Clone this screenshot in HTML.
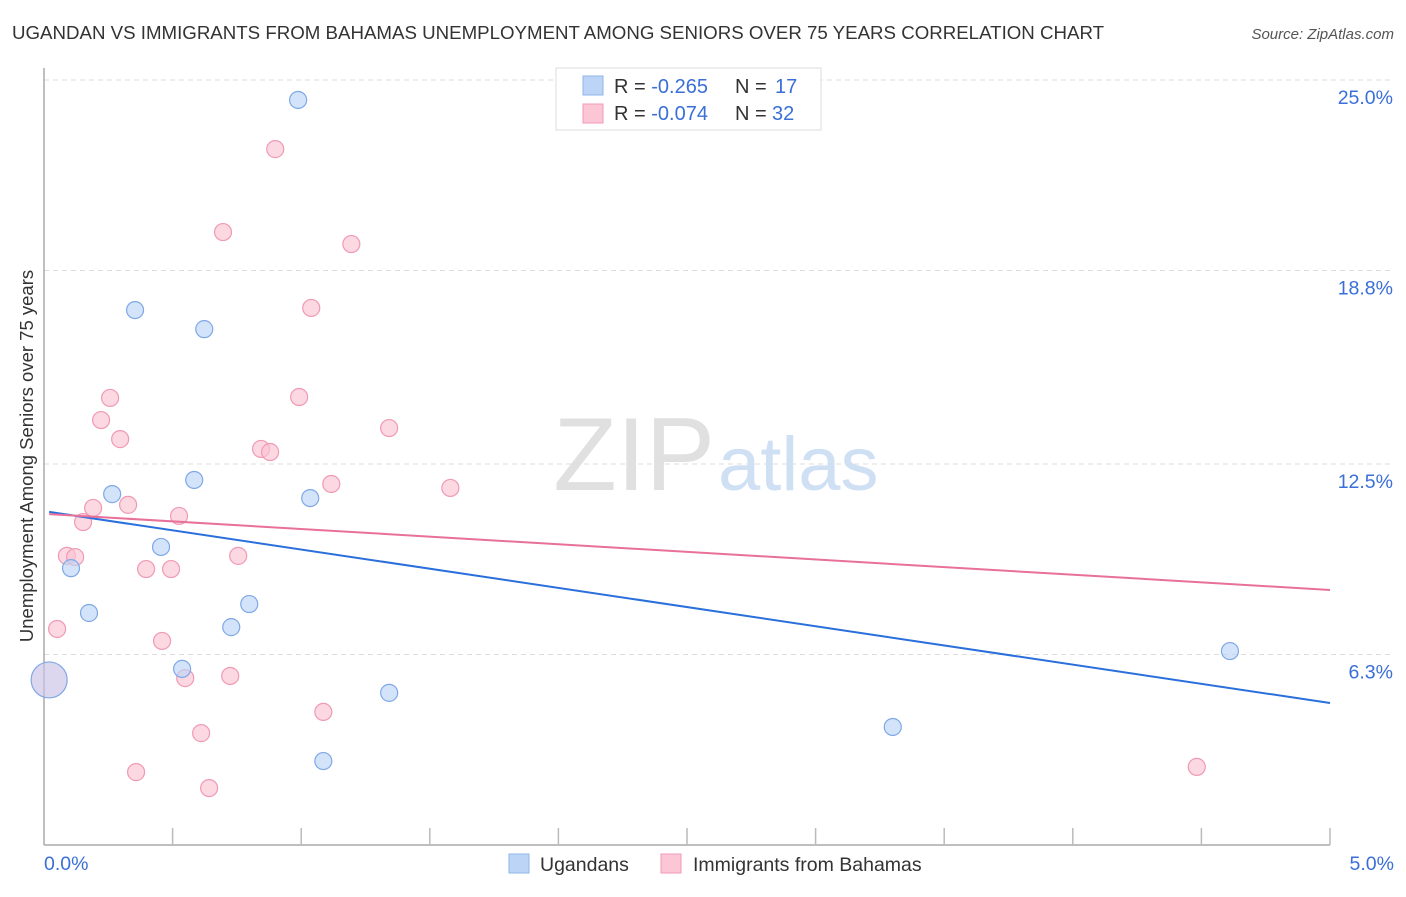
<!DOCTYPE html>
<html><head><meta charset="utf-8"><style>
body{margin:0;background:#fff;font-family:"Liberation Sans",sans-serif}
svg text{font-family:"Liberation Sans",sans-serif}
</style></head><body>
<svg width="1406" height="892" xmlns="http://www.w3.org/2000/svg">
<text x="12" y="39" font-size="18.7" fill="#333">UGANDAN VS IMMIGRANTS FROM BAHAMAS UNEMPLOYMENT AMONG SENIORS OVER 75 YEARS CORRELATION CHART</text>
<text x="1394" y="39" font-size="15" fill="#555" text-anchor="end" font-style="italic">Source: ZipAtlas.com</text>
<g id="grid"></g>
<text x="715" y="490" font-size="104" fill="#e0e0e0" text-anchor="end" font-family="Liberation Serif">ZIP</text>
<text x="718" y="490" font-size="76" fill="#cfdff4">atlas</text>
<line x1="44" y1="68" x2="44" y2="845" stroke="#aaa" stroke-width="1.5"/>
<line x1="44" y1="845" x2="1330" y2="845" stroke="#aaa" stroke-width="1.5"/>
<g id="ticks"></g>
<text x="44" y="870" font-size="19.5" fill="#3a6fd8">0.0%</text>
<text x="1394" y="870" font-size="19.5" fill="#3a6fd8" text-anchor="end">5.0%</text>
<text transform="translate(33,456) rotate(-90)" font-size="18.5" fill="#333" text-anchor="middle">Unemployment Among Seniors over 75 years</text>
<g id="pts"></g>
<g id="lines"></g>
<g>
<rect x="556" y="68" width="265" height="62" fill="#fff" stroke="#ddd"/>
<rect x="583" y="76" width="20" height="19" fill="#bcd5f7" stroke="#8fb5e8"/>
<rect x="583" y="104" width="20" height="19" fill="#fcc6d6" stroke="#f09ab5"/>
<text x="614" y="93" font-size="20" fill="#333">R = <tspan fill="#3a6fd8">-0.265</tspan><tspan x="735">N = </tspan><tspan fill="#3a6fd8" x="775">17</tspan></text>
<text x="614" y="120" font-size="20" fill="#333">R = <tspan fill="#3a6fd8">-0.074</tspan><tspan x="735">N = </tspan><tspan fill="#3a6fd8" x="772">32</tspan></text>
</g>
<g>
<rect x="509" y="854" width="20" height="19" fill="#bcd5f7" stroke="#8fb5e8"/>
<text x="540" y="871" font-size="19.5" fill="#333">Ugandans</text>
<rect x="661" y="854" width="20" height="19" fill="#fcc6d6" stroke="#f09ab5"/>
<text x="693" y="871" font-size="19.5" fill="#333">Immigrants from Bahamas</text>
</g>
</svg>
<script>
const yTicks=[25.0,18.8,12.5,6.3];
const yTickLabels=["25.0%","18.8%","12.5%","6.3%"];
const blueX=[0.988,0.354,0.623,0.584,0.265,1.035,0.455,0.105,0.798,0.175,0.728,0.537,4.611,1.342,3.300,1.086];
const blueY=[24.35,17.51,16.89,11.98,11.52,11.39,9.80,9.11,7.94,7.65,7.19,5.83,6.41,5.05,3.94,2.83];
const pinkX=[0.899,0.696,1.195,1.039,0.257,0.992,0.222,0.296,1.342,0.844,0.879,1.580,1.117,0.191,0.327,0.525,0.152,0.089,0.121,0.755,0.397,0.494,0.051,0.459,0.549,0.724,1.086,0.611,0.358,0.642,4.482];
const pinkY=[22.75,20.05,19.66,17.58,14.65,14.68,13.93,13.31,13.67,12.99,12.89,11.72,11.85,11.07,11.17,10.81,10.61,9.51,9.47,9.51,9.08,9.08,7.13,6.74,5.53,5.60,4.43,3.74,2.47,1.95,2.64];
const bigX=[0.02], bigY=[5.47];
const blueTrend=[10.94,4.72];
const pinkTrend=[10.87,8.40];
const X=v=>44+v*257.2;
const Y=v=>848-v*30.72;
const NS="http://www.w3.org/2000/svg";
function mk(t,a){const e=document.createElementNS(NS,t);for(const k in a)e.setAttribute(k,a[k]);return e;}
const grid=document.getElementById('grid');
yTicks.forEach((t,i)=>{
 const l=mk('line',{x1:44,x2:1394,y1:Y(t),y2:Y(t),stroke:'#ddd','stroke-dasharray':'5,4'});
 
 
 grid.appendChild(l);
 const tx=mk('text',{x:1393,y:Y(t)+24,'font-size':19.5,fill:'#3a6fd8','text-anchor':'end'});
 tx.textContent=yTickLabels[i];
 
 
 grid.appendChild(tx);
});
const ticks=document.getElementById('ticks');
for(let i=1;i<=10;i++){
 const l=mk('line',{x1:X(i*0.5),x2:X(i*0.5),y1:828,y2:845,stroke:'#bbb','stroke-width':1.5});
 
 
 ticks.appendChild(l);
}
const pts=document.getElementById('pts');
function dots(xs,ys,fill,stroke,r,name){
 xs.forEach((x,i)=>{
  const c=mk('circle',{cx:X(x),cy:Y(ys[i]),r:r,fill:fill,stroke:stroke,'stroke-width':1.2,'fill-opacity':0.65});
  
  
  pts.appendChild(c);
 });
}
dots(pinkX,pinkY,'#f9c3d3','#f09ab5',8.5,'bahamas-point');
dots(blueX,blueY,'#bcd5f7','#7fa8e6',8.5,'ugandan-point');
dots(bigX,bigY,'#c9c0e6','#7fa8e6',18,'overlap-point');
const lines=document.getElementById('lines');
const lb=mk('line',{x1:X(0.02),y1:Y(blueTrend[0]),x2:X(5),y2:Y(blueTrend[1]),stroke:'#2a6fdb','stroke-width':2});


lines.appendChild(lb);
const lp=mk('line',{x1:X(0.02),y1:Y(pinkTrend[0]),x2:X(5),y2:Y(pinkTrend[1]),stroke:'#e8709a','stroke-width':2});


lines.appendChild(lp);
</script>
</body></html>
